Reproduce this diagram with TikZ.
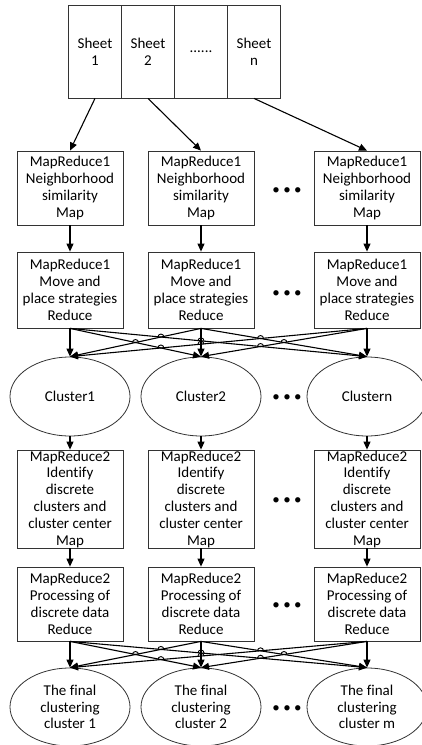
\documentclass[tikz,border=0pt]{standalone}
\usepackage{fontspec}
\setmainfont{Carlito}[Ligatures=NoCommon]
\usetikzlibrary{arrows.meta,shapes.geometric,intersections}

\begin{document}
\begin{tikzpicture}[
    x=1pt, y=-1pt,
    sheet/.style={rectangle, draw=black!80, line width=0.8pt, minimum width=53pt, minimum height=93pt, inner sep=0pt, align=center, font=\fontsize{15}{16.8}\selectfont},
    box/.style={rectangle, draw=black!80, line width=0.8pt, minimum width=106pt, inner sep=0pt, align=center, font=\fontsize{15}{16.8}\selectfont},
    cluster/.style={ellipse, draw=black!80, line width=0.8pt, minimum width=120pt, minimum height=79pt, inner sep=0pt, align=center, font=\fontsize{15}{16.8}\selectfont},
    dots/.style={inner sep=0pt, font=\fontsize{15}{16.8}\selectfont},
    arrow/.style={-{Triangle[length=8pt,width=7pt]}, line width=1.1pt}
]
    \useasboundingbox (0,0) rectangle (421,745);

    % Sheets
    \node[sheet] (sheet1) at (95,51.5) {Sheet\\1};
    \node[sheet] (sheet2) at (148,51.5) {Sheet\\2};
    \node[sheet] (sheetdots) at (201,51.5) {......};
    \node[sheet] (sheetn) at (254,51.5) {Sheet\\n};

    % MapReduce1 map
    \node[box, minimum height=74pt] (nb1) at (70,188) {MapReduce1\\Neighborhood\\similarity\\Map};
    \node[box, minimum height=74pt] (nb2) at (201,188) {MapReduce1\\Neighborhood\\similarity\\Map};
    \node[box, minimum height=74pt] (nbn) at (367,188) {MapReduce1\\Neighborhood\\similarity\\Map};
    \node[dots] (nbdots) at (287,191) {• • •};

    % MapReduce1 reduce
    \node[box, minimum height=76pt] (mv1) at (70,290) {MapReduce1\\Move and\\place strategies\\Reduce};
    \node[box, minimum height=76pt] (mv2) at (201,290) {MapReduce1\\Move and\\place strategies\\Reduce};
    \node[box, minimum height=76pt] (mvn) at (367,290) {MapReduce1\\Move and\\place strategies\\Reduce};
    \node[dots] (mvdots) at (287,294) {• • •};

    % Clusters
    \node[cluster] (cl1) at (70,396.5) {Cluster1};
    \node[cluster] (cl2) at (201,396.5) {Cluster2};
    \node[cluster] (cln) at (367,396.5) {Clustern};
    \node[dots] (cldots) at (287,398) {• • •};

    % MapReduce2 map
    \node[box, minimum height=98pt] (id1) at (70,499) {MapReduce2\\Identify\\discrete\\clusters and\\cluster center\\Map};
    \node[box, minimum height=98pt] (id2) at (201,499) {MapReduce2\\Identify\\discrete\\clusters and\\cluster center\\Map};
    \node[box, minimum height=98pt] (idn) at (367,499) {MapReduce2\\Identify\\discrete\\clusters and\\cluster center\\Map};
    \node[dots] (iddots) at (287,501) {• • •};

    % MapReduce2 reduce
    \node[box, minimum height=74pt] (pd1) at (70,604) {MapReduce2\\Processing of\\discrete data\\Reduce};
    \node[box, minimum height=74pt] (pd2) at (201,604) {MapReduce2\\Processing of\\discrete data\\Reduce};
    \node[box, minimum height=74pt] (pdn) at (367,604) {MapReduce2\\Processing of\\discrete data\\Reduce};
    \node[dots] (pddots) at (287,606) {• • •};

    % Final clusters
    \node[cluster, minimum height=78pt] (fin1) at (70,707) {The final\\clustering\\cluster 1};
    \node[cluster, minimum height=78pt] (fin2) at (201,707) {The final\\clustering\\cluster 2};
    \node[cluster, minimum height=78pt] (finn) at (367,707) {The final\\clustering\\cluster m};
    \node[dots] (findots) at (287,709) {• • •};

    % Arrows
    \draw[arrow] (sheet1.south) -- (nb1.north);
    \draw[arrow] (sheet2.south) -- (nb2.north);
    \draw[arrow] (sheetn.south) -- (nbn.north);
    \draw[arrow] (nb1) -- (mv1);
    \draw[arrow] (nb2) -- (mv2);
    \draw[arrow] (nbn) -- (mvn);
    \draw[arrow] (cl1) -- (id1);
    \draw[arrow] (cl2) -- (id2);
    \draw[arrow] (cln) -- (idn);
    \draw[arrow] (id1) -- (pd1);
    \draw[arrow] (id2) -- (pd2);
    \draw[arrow] (idn) -- (pdn);

    % Shuffle to clusters
    \draw[arrow] (mv1.south) -- (cl1.north);
    \draw[arrow, name path=mb0] (mv2.south) -- (cl2.north);
    \draw[arrow] (mvn.south) -- (cln.north);
    \draw[arrow, name path=ma1] (mv1.south) -- (cl2.north);
    \draw[arrow, name path=ma2] (mv1.south) -- (cln.north);
    \draw[arrow, name path=mb1] (mv2.south) -- (cl1.north);
    \draw[arrow, name path=mb2] (mv2.south) -- (cln.north);
    \draw[arrow, name path=mc1] (mvn.south) -- (cl1.north);
    \draw[arrow, name path=mc2] (mvn.south) -- (cl2.north);

    % Shuffle to final clusters
    \draw[arrow] (pd1.south) -- (fin1.north);
    \draw[arrow, name path=pb0] (pd2.south) -- (fin2.north);
    \draw[arrow] (pdn.south) -- (finn.north);
    \draw[arrow, name path=pa1] (pd1.south) -- (fin2.north);
    \draw[arrow, name path=pa2] (pd1.south) -- (finn.north);
    \draw[arrow, name path=pb1] (pd2.south) -- (fin1.north);
    \draw[arrow, name path=pb2] (pd2.south) -- (finn.north);
    \draw[arrow, name path=pc1] (pdn.south) -- (fin1.north);
    \draw[arrow, name path=pc2] (pdn.south) -- (fin2.north);

    % Line hops
    \foreach \g in {m,p}{
        \foreach \p/\q in {a1/b1, a1/c1, a2/b1, a2/c2, b2/c1, b2/c2, a2/b0, c1/b0}{
            \path[name intersections/.expanded={of=\g\p\space and \g\q, by=hop}];
            \draw[line width=0.9pt] (hop) ++(-3pt,0) arc[start angle=180, end angle=0, radius=3pt];
        }
    }

\end{tikzpicture}
\end{document}
